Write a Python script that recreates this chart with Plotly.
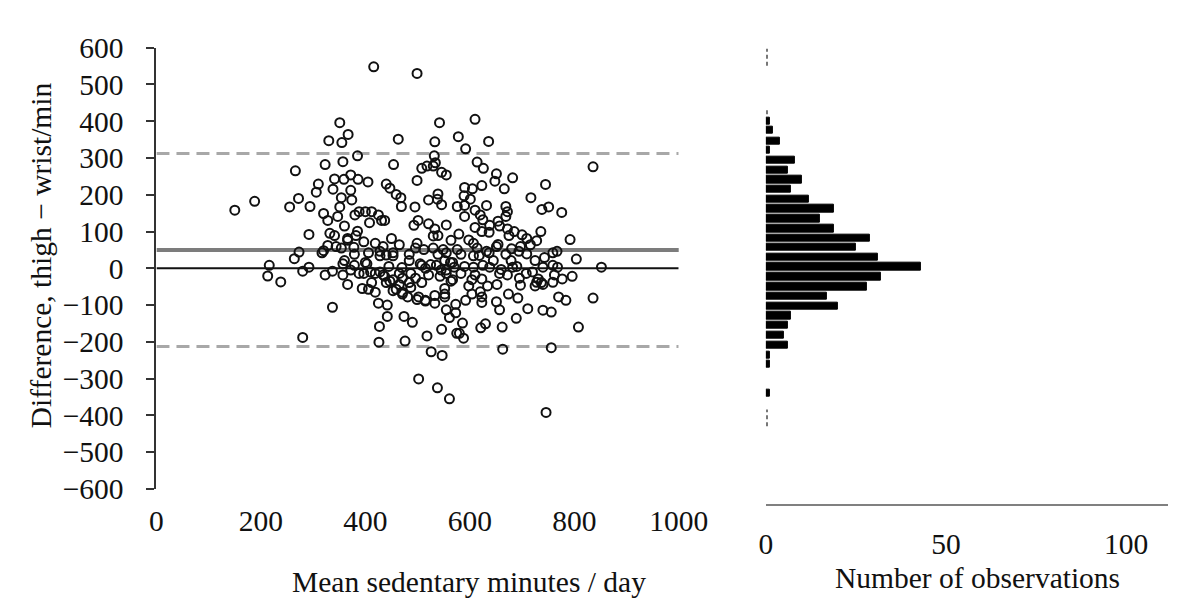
import plotly.graph_objects as go

# ---------------- data ----------------
# (mean sedentary minutes/day, difference thigh - wrist in min)
points = [
    (416, 548), (499, 530), (351, 396), (542, 396), (330, 347), (355, 342), (367, 364), (463, 351),
    (533, 344), (578, 358), (385, 306), (323, 282), (357, 290), (454, 282), (532, 306), (508, 272),
    (518, 278), (530, 278), (534, 287), (266, 265), (499, 239), (546, 261), (555, 254), (341, 243),
    (359, 242), (372, 254), (386, 242), (405, 235), (310, 229), (338, 215), (372, 212), (306, 207),
    (440, 229), (447, 218), (459, 201), (468, 192), (539, 202), (538, 188), (546, 173), (272, 190),
    (255, 167), (294, 168), (354, 192), (374, 186), (469, 168), (495, 167), (521, 186), (576, 168),
    (150, 158), (188, 182), (320, 149), (351, 167), (328, 130), (347, 141), (380, 145), (388, 154),
    (400, 154), (412, 154), (425, 145), (431, 130), (437, 130), (408, 124), (360, 115), (493, 117),
    (501, 130), (521, 121), (555, 118), (292, 92), (332, 95), (341, 89), (385, 101), (450, 81),
    (530, 88), (539, 89), (579, 93), (366, 76), (397, 72), (419, 68), (465, 64), (564, 76),
    (273, 44), (264, 26), (317, 42), (328, 62), (344, 59), (378, 57), (428, 46), (440, 36),
    (453, 42), (496, 55), (530, 55), (549, 51), (484, 21), (505, 12), (552, 21), (216, 8),
    (292, 3), (400, 16), (360, 21),
    (610, 405), (636, 345), (592, 325), (614, 289), (626, 272), (836, 276), (651, 257), (648, 237),
    (682, 246), (623, 225), (590, 220), (605, 216), (666, 216), (745, 228), (717, 192), (589, 197),
    (601, 188), (590, 171), (610, 158), (632, 171), (669, 168), (672, 154), (738, 160), (751, 167),
    (776, 152), (590, 141), (620, 145), (669, 141), (625, 132), (638, 117), (654, 128), (657, 115),
    (672, 107), (623, 100), (637, 98), (685, 100), (700, 91), (709, 81), (728, 75), (736, 100),
    (792, 78), (598, 77), (607, 68), (654, 65), (680, 53), (697, 59), (716, 64), (583, 38),
    (555, 42), (637, 42), (669, 38), (694, 46), (709, 39), (725, 21), (743, 29), (759, 42),
    (767, 46), (804, 25), (852, 3), (607, 34), (645, 21), (679, 21), (567, 16),
    (213, -21), (238, -37), (280, -8), (323, -18), (337, -8), (337, -106), (280, -188), (357, -18),
    (366, -44), (357, 12), (379, 8), (397, -14), (403, 12), (394, -55), (406, -57), (419, -65),
    (419, -14), (434, -18), (425, -95), (442, -100), (442, -131), (427, -158), (426, -201), (474, -131),
    (490, -147), (476, -198), (502, -301), (538, -325), (561, -355), (518, -184), (526, -227), (547, -237),
    (546, -166), (575, -177), (573, -98), (533, -74), (533, -95), (555, -113), (561, -134), (515, -89),
    (499, -85), (508, 8), (484, -39), (471, -70), (459, -57), (453, -31), (465, -14), (487, -14),
    (508, -39), (536, 8), (555, -5), (567, -31), (563, 16), (552, -70), (372, -5), (412, -39),
    (440, -39),
    (796, -22), (777, -29), (759, -38), (740, -44), (725, -48), (731, -29), (720, -10), (836, -81),
    (770, -78), (784, -87), (808, -160), (756, -119), (740, -114), (711, -110), (689, -136), (692, -81),
    (674, -70), (651, -91), (657, -113), (662, -160), (630, -151), (621, -162), (663, -220), (756, -216),
    (746, -392), (623, -93), (586, -149), (580, -177), (588, -190), (573, -121), (552, -78), (592, -87),
    (604, -70), (598, -48), (620, -64), (623, -29), (634, -48), (652, -44), (672, -18), (695, -27),
    (697, -46), (708, -14), (728, -38), (737, -39), (762, -18), (768, 3), (759, 8), (682, 3),
    (657, -14), (638, 3), (607, 3), (583, -14), (570, 3), (555, -14), (564, -35), (552, -55),
    (610, -18), (618, 35),
    (366, 81), (382, 89), (434, 59), (499, 68), (512, 51), (533, 107), (576, 51), (320, 48),
    (354, 55), (379, 38), (406, 42), (428, 34), (453, 34), (484, 38), (539, 38), (614, 55),
    (632, 46), (651, 59), (610, 111), (675, 89),
    (388, -14), (410, -10), (428, -10), (437, -22), (447, -35), (453, -61), (465, -44), (471, -65),
    (487, -52), (481, -78), (471, -27), (496, -27), (502, -78), (515, -87), (521, -18), (543, -22),
    (604, -31), (623, -78),
    (445, 5), (470, 2), (515, 0), (525, 10), (545, -5), (590, 5), (625, 8), (660, -3),
    (690, 5), (740, 3),
]
sedentary_minutes = [p[0] for p in points]
difference = [p[1] for p in points]

mean_diff = 50
upper_loa = 312
lower_loa = -213

# histogram of differences (bin centre in min, number of observations)
hist_centers = [400, 375, 346, 321, 294, 267, 241, 215, 188, 162, 135, 108, 82, 57, 31, 4,
                -23, -50, -76, -103, -129, -155, -182, -209, -236, -261, -340]
hist_counts = [1, 2, 4, 1, 8, 6, 10, 7, 12, 19, 15, 19, 29, 25, 31, 43,
               32, 28, 17, 20, 7, 6, 5, 6, 1, 1, 1]

x_ticks = [0, 200, 400, 600, 800, 1000]
y_ticks = [600, 500, 400, 300, 200, 100, 0, -100, -200, -300, -400, -500, -600]
hist_ticks = [0, 50, 100]

# ---------------- figure ----------------
W, H = 1190, 602
FONT = "Liberation Serif"
FS = 29.5
TXT = "#111111"

fig = go.Figure()
fig.add_trace(go.Scatter(
    x=sedentary_minutes, y=difference, mode="markers",
    marker=dict(symbol="circle-open", size=9, color=TXT, line=dict(width=2, color=TXT)),
    xaxis="x", yaxis="y", showlegend=False, cliponaxis=False))

fig.add_trace(go.Bar(
    x=hist_counts, y=hist_centers, orientation="h", width=20,
    marker=dict(color="#000000", line=dict(color="#000000", width=1)),
    xaxis="x2", yaxis="y2", showlegend=False))

shapes = [
    dict(type="line", xref="x", yref="y", x0=0, x1=1000, y0=upper_loa, y1=upper_loa,
         line=dict(color="#a8a8a8", width=3, dash="13px,7px"), layer="below"),
    dict(type="line", xref="x", yref="y", x0=0, x1=1000, y0=lower_loa, y1=lower_loa,
         line=dict(color="#a8a8a8", width=3, dash="13px,7px"), layer="below"),
    dict(type="line", xref="x", yref="y", x0=0, x1=1005, y0=mean_diff, y1=mean_diff,
         line=dict(color="#7c7c7c", width=4), layer="below"),
    dict(type="line", xref="x", yref="y", x0=0, x1=1000, y0=0, y1=0,
         line=dict(color=TXT, width=2), layer="below"),
    # faint dashed remnants of the histogram's vertical axis
    dict(type="line", xref="x2", yref="y2", x0=0.3, x1=0.3, y0=551, y1=597,
         line=dict(color="#777777", width=2, dash="4px,3px")),
    dict(type="line", xref="x2", yref="y2", x0=0.3, x1=0.3, y0=419, y1=437,
         line=dict(color="#777777", width=2, dash="4px,3px")),
    dict(type="line", xref="x2", yref="y2", x0=0.3, x1=0.3, y0=-430, y1=-384,
         line=dict(color="#777777", width=2, dash="4px,3px")),
]

annotations = [
    dict(text="Mean sedentary minutes / day", xref="paper", yref="paper",
         x=284 / W, y=1 - 589 / H, xanchor="left", yanchor="middle", showarrow=False,
         font=dict(family=FONT, size=FS, color=TXT)),
    dict(text="Number of observations", xref="paper", yref="paper",
         x=844 / W, y=1 - 585 / H, xanchor="left", yanchor="middle", showarrow=False,
         font=dict(family=FONT, size=FS, color=TXT)),
    dict(text="Difference, thigh \u2212 wrist/min", xref="paper", yref="paper",
         x=27 / W, y=1 - 244 / H, xanchor="center", yanchor="middle", showarrow=False,
         textangle=-90, font=dict(family=FONT, size=FS, color=TXT)),
]

fig.update_layout(
    width=W, height=H, margin=dict(l=0, r=0, t=0, b=0),
    paper_bgcolor="white", plot_bgcolor="white",
    font=dict(family=FONT, size=FS, color=TXT),
    bargap=0,
    shapes=shapes, annotations=annotations,
    xaxis=dict(domain=[146 / W, 685 / W], range=[0, 1000], tickvals=x_ticks,
               showline=False, ticks="", showgrid=False, zeroline=False, anchor="y",
               ticklabelstandoff=12),
    yaxis=dict(domain=[1 - 491 / H, 1 - 25 / H], range=[-600, 600], tickvals=y_ticks,
               showline=True, linecolor="#333333", linewidth=2, ticks="outside",
               ticklen=8, tickwidth=2, tickcolor="#333333", showgrid=False,
               zeroline=False, anchor="x", ticklabelstandoff=17),
    xaxis2=dict(domain=[775 / W, 1.0], range=[0, 111.6], tickvals=hist_ticks,
                showline=True, linecolor="#808080", linewidth=2, ticks="",
                showgrid=False, zeroline=False, anchor="y2", ticklabelstandoff=13),
    yaxis2=dict(domain=[1 - 507 / H, 1 - 25 / H], range=[-641.3, 600], visible=False,
                anchor="x2"),
)

fig.write_html("out.html")
